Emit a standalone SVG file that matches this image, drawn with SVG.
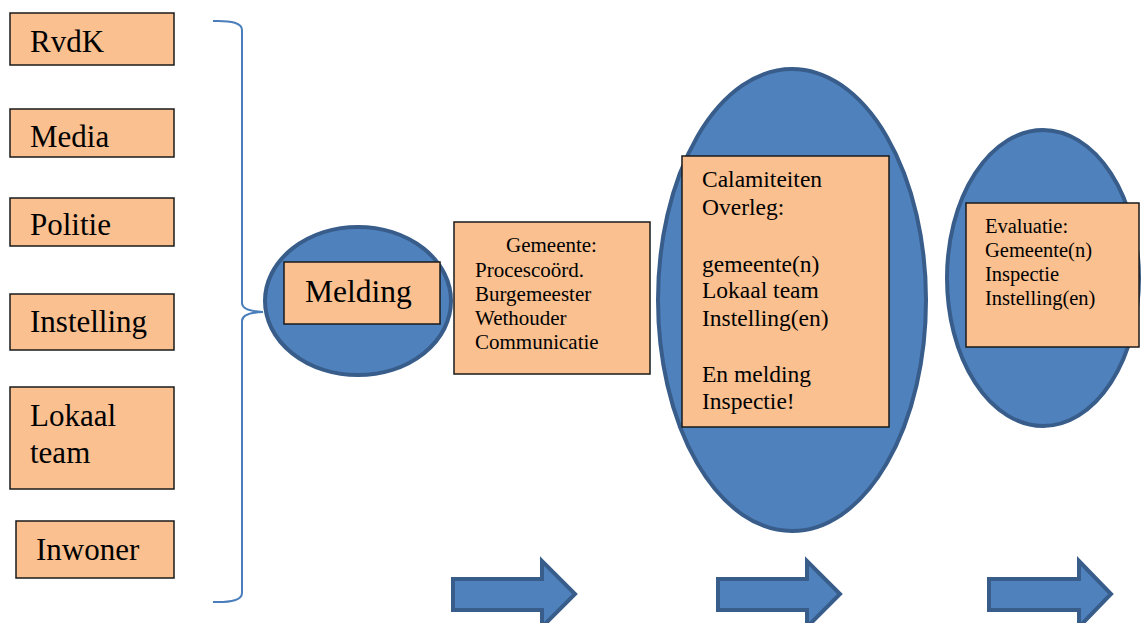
<svg xmlns="http://www.w3.org/2000/svg" width="1141" height="623" viewBox="0 0 1141 623">
<style>
.box{fill:#FAC090;stroke:#1a1a1a;stroke-width:1.5}
.ell{fill:#4F81BD;stroke:#385D8A;stroke-width:4}
.arr{fill:#4F81BD;stroke:#385D8A;stroke-width:4;stroke-linejoin:miter}
.t{font-family:"Liberation Serif","Times New Roman",serif;fill:#000}
.big{font-size:31px}
.brace{fill:none;stroke:#4A7EBB;stroke-width:2}
</style>
<rect width="1141" height="623" fill="#fff"/>
<g id="connectors">
<path class="brace" d="M213,21 Q242,20 242,30 L242,303 Q242,311 263,312 Q242,313 242,321 L242,593 Q242,603 213,602"/>
</g>
<g id="rvdk"><rect class="box" x="10" y="13" width="164" height="52"/><text class="t big" x="30" y="52">RvdK</text></g>
<g id="media"><rect class="box" x="10" y="109" width="164" height="48"/><text class="t big" x="30" y="147">Media</text></g>
<g id="politie"><rect class="box" x="10" y="198" width="164" height="48"/><text class="t big" x="30" y="235">Politie</text></g>
<g id="instelling"><rect class="box" x="10" y="294" width="164" height="56"/><text class="t big" x="30" y="332">Instelling</text></g>
<g id="lokaal-team"><rect class="box" x="10" y="387" width="164" height="102"/><text class="t big" x="30" y="426">Lokaal</text><text class="t big" x="30" y="463">team</text></g>
<g id="inwoner"><rect class="box" x="16" y="521" width="158" height="57"/><text class="t big" x="36" y="560">Inwoner</text></g>
<g id="melding"><ellipse class="ell" cx="358" cy="301" rx="93" ry="74"/><rect class="box" x="284" y="262" width="156" height="62"/><text class="t" font-size="31.5" x="305" y="302">Melding</text></g>
<g id="gemeente"><rect class="box" x="454" y="222" width="196" height="152"/>
<text class="t" font-size="21"><tspan x="506" y="252">Gemeente:</tspan><tspan x="475" y="277">Procescoörd.</tspan><tspan x="475" y="301">Burgemeester</tspan><tspan x="475" y="325">Wethouder</tspan><tspan x="475" y="349">Communicatie</tspan></text></g>
<g id="calamiteiten"><ellipse class="ell" cx="792" cy="300" rx="134" ry="231"/><rect class="box" x="682" y="156" width="207" height="271"/>
<text class="t" font-size="23.5"><tspan x="702" y="187">Calamiteiten</tspan><tspan x="702" y="215">Overleg:</tspan><tspan x="702" y="272">gemeente(n)</tspan><tspan x="702" y="298">Lokaal team</tspan><tspan x="702" y="326">Instelling(en)</tspan><tspan x="702" y="382">En melding</tspan><tspan x="702" y="409">Inspectie!</tspan></text></g>
<g id="evaluatie"><ellipse class="ell" cx="1043" cy="278" rx="96" ry="148"/><rect class="box" x="966" y="203" width="173" height="144"/>
<text class="t" font-size="20.5"><tspan x="985" y="233">Evaluatie:</tspan><tspan x="985" y="257">Gemeente(n)</tspan><tspan x="985" y="281">Inspectie</tspan><tspan x="985" y="305">Instelling(en)</tspan></text></g>
<g id="arrow1"><path class="arr" d="M453,579 L542,579 L542,561 L575,594 L542,627 L542,610 L453,610 Z"/></g>
<g id="arrow2"><path class="arr" d="M718,579 L807,579 L807,561 L840,594 L807,627 L807,610 L718,610 Z"/></g>
<g id="arrow3"><path class="arr" d="M989,579 L1079,579 L1079,561 L1111,594 L1079,627 L1079,610 L989,610 Z"/></g>
</svg>
